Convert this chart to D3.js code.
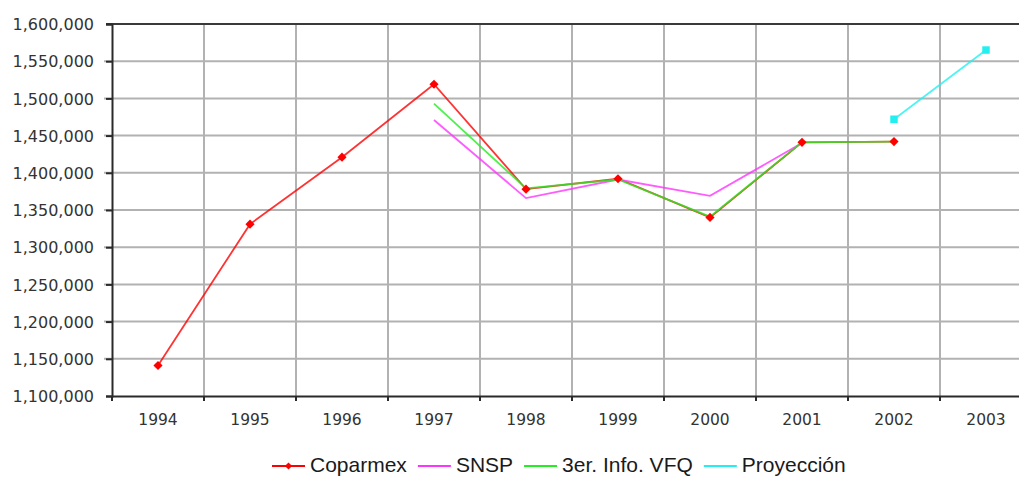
<!DOCTYPE html>
<html>
<head>
<meta charset="utf-8">
<script src="https://cdn.jsdelivr.net/npm/d3@7"></script>
<style>
  body { margin: 0; background: #fff; }
  svg { display: block; }
  .axis text { font-family: "DejaVu Sans", Verdana, sans-serif; fill: #333; }
  .legend text { font-family: "Liberation Sans", Arial, sans-serif; fill: #1a1a1a; }
</style>
</head>
<body>
<svg id="chart"></svg>
<script>
// values
const years = ['1994', '1995', '1996', '1997', '1998', '1999', '2000', '2001', '2002', '2003'];
const coparmex = [1141000, 1331000, 1421000, 1519000, 1378000, 1392000, 1340000, 1441000, 1442000, null];
const snsp = [null, null, null, 1471000, 1366000, 1391000, 1369000, 1440000, null, null];
const vfq = [null, null, null, 1493000, 1379000, 1391000, 1341000, 1441000, 1442000, null];
const proyeccion = [null, null, null, null, null, null, null, null, 1472000, 1565000];
const yTicks = [1100000, 1150000, 1200000, 1250000, 1300000, 1350000, 1400000, 1450000, 1500000, 1550000, 1600000];

const series = [
    {name: 'Coparmex', values: coparmex, color: '#ff0000', marker: 'diamond'},
    {name: 'SNSP', values: snsp, color: '#ff33ff', marker: null},
    {name: '3er. Info. VFQ', values: vfq, color: '#22ee22', marker: null},
    {name: 'Proyección', values: proyeccion, color: '#22f0f0', marker: 'square'}
];

const width = 1019, height = 477;
const plot = {left: 112, top: 24, right: 1032, bottom: 396};

const svg = d3.select('#chart')
    .attr('width', width)
    .attr('height', height);

const x = d3.scaleBand()
    .domain(years)
    .range([plot.left, plot.right])
    .padding(0);

const y = d3.scaleLinear()
    .domain([yTicks[0], yTicks[yTicks.length - 1]])
    .range([plot.bottom, plot.top]);

const cx = d => x(d) + x.bandwidth() / 2;

// horizontal gridlines (start a bit left of the axis like the original)
svg.append('g')
    .selectAll('line')
    .data(yTicks.slice(1, -1))
    .join('line')
    .attr('x1', plot.left - 8)
    .attr('x2', plot.right)
    .attr('y1', d => y(d))
    .attr('y2', d => y(d))
    .attr('stroke', '#b2b2b2')
    .attr('stroke-width', 2);

// vertical gridlines at category boundaries
svg.append('g')
    .selectAll('line')
    .data(years.slice(1))
    .join('line')
    .attr('x1', d => x(d))
    .attr('x2', d => x(d))
    .attr('y1', plot.top)
    .attr('y2', plot.bottom)
    .attr('stroke', '#b2b2b2')
    .attr('stroke-width', 2);

// top border of plot area
svg.append('line')
    .attr('x1', plot.left - 6).attr('x2', plot.right)
    .attr('y1', plot.top).attr('y2', plot.top)
    .attr('stroke', '#3a3a3a')
    .attr('stroke-width', 2);

// y axis
const yAxis = d3.axisLeft(y)
    .tickValues(yTicks)
    .tickFormat(d3.format(','))
    .tickSize(6)
    .tickPadding(12);

const yAxisG = svg.append('g')
    .attr('class', 'axis y-axis')
    .attr('transform', `translate(${plot.left},0)`)
    .call(yAxis);
yAxisG.select('.domain').attr('stroke', '#2a2a2a').attr('stroke-width', 2);
yAxisG.selectAll('.tick line').attr('stroke', '#2a2a2a').attr('stroke-width', 2);
yAxisG.selectAll('text').style('font-size', '16px').attr('dy', '0.36em');

// x axis: labels at centres, ticks at boundaries
const xAxis = d3.axisBottom(x)
    .tickSize(0)
    .tickPadding(18);

const xAxisG = svg.append('g')
    .attr('class', 'axis x-axis')
    .attr('transform', `translate(0,${plot.bottom})`)
    .call(xAxis);
xAxisG.select('.domain').attr('stroke', '#2a2a2a').attr('stroke-width', 2);
xAxisG.selectAll('text').style('font-size', '15.5px');

xAxisG.selectAll('.bound')
    .data(years)
    .join('line')
    .attr('class', 'bound')
    .attr('x1', d => x(d))
    .attr('x2', d => x(d))
    .attr('y1', 0)
    .attr('y2', 5)
    .attr('stroke', '#2a2a2a')
    .attr('stroke-width', 2);

// lines
const line = d3.line()
    .defined(d => d.v != null)
    .x(d => cx(d.year))
    .y(d => y(d.v));

series.forEach(s => {
    const pts = years.map((yr, i) => ({year: yr, v: s.values[i]}));
    svg.append('path')
        .datum(pts)
        .attr('fill', 'none')
        .attr('stroke', s.color)
        .attr('stroke-width', 1.8)
        .attr('opacity', 0.8)
        .attr('d', line);
});

// markers on top (diamond = square turned 45deg)
series.filter(s => s.marker).forEach(s => {
    const pts = years.map((yr, i) => ({year: yr, v: s.values[i]})).filter(d => d.v != null);
    const rot = s.marker === 'diamond' ? 45 : 0;
    svg.append('g')
        .selectAll('path')
        .data(pts)
        .join('path')
        .attr('transform', d => `translate(${cx(d.year)},${y(d.v)}) rotate(${rot})`)
        .attr('d', d3.symbol().type(d3.symbolSquare).size(s.marker === 'diamond' ? 42 : 56))
        .attr('fill', s.color);
});

// legend
const legend = svg.append('g')
    .attr('class', 'legend')
    .attr('transform', 'translate(272,466)');

let lx = 0;
series.forEach(s => {
    const g = legend.append('g').attr('transform', `translate(${lx},0)`);
    g.append('line')
        .attr('x1', 0).attr('x2', 33)
        .attr('y1', 0).attr('y2', 0)
        .attr('stroke', s.color)
        .attr('stroke-width', 2);
    if (s.marker === 'diamond') {
        g.append('path')
            .attr('transform', 'translate(16.5,0) rotate(45)')
            .attr('d', d3.symbol().type(d3.symbolSquare).size(26))
            .attr('fill', s.color);
    }
    const t = g.append('text')
        .attr('x', 38)
        .attr('y', 6)
        .style('font-size', '21px')
        .text(s.name);
    lx += 38 + t.node().getComputedTextLength() + 11;
});
</script>
</body>
</html>
